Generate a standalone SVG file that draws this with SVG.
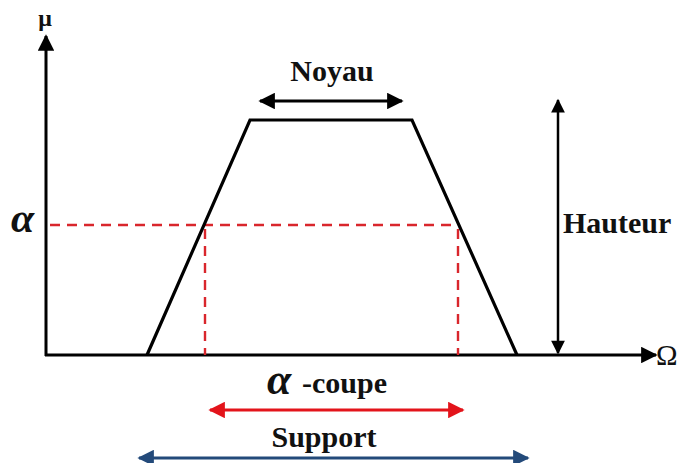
<svg xmlns="http://www.w3.org/2000/svg" width="682" height="463" viewBox="0 0 682 463">
  <style>
    .lbl { font-family: "Liberation Serif", "Times New Roman", serif; font-weight: bold; fill: #111; }
    .greek { font-family: "Liberation Serif", "Times New Roman", serif; font-style: italic; font-weight: bold; fill: #111; }
    .axis { stroke: #000; stroke-width: 3; fill: none; }
    .curve { stroke: #000; stroke-width: 3.2; fill: none; stroke-linejoin: miter; }
    .dash { stroke: #d9262c; stroke-width: 2.4; stroke-dasharray: 10 7; fill: none; }
  </style>
  <defs>
    <marker id="ah" viewBox="0 0 10 10" refX="9" refY="5" markerWidth="6" markerHeight="5.5" orient="auto-start-reverse" markerUnits="strokeWidth">
      <path d="M0,0 L10,5 L0,10 Z" fill="#000"/>
    </marker>
    <marker id="ahRed" viewBox="0 0 10 10" refX="9" refY="5" markerWidth="6" markerHeight="5.5" orient="auto-start-reverse" markerUnits="strokeWidth">
      <path d="M0,0 L10,5 L0,10 Z" fill="#e3141b"/>
    </marker>
    <marker id="ahBlue" viewBox="0 0 10 10" refX="9" refY="5" markerWidth="6" markerHeight="5.5" orient="auto-start-reverse" markerUnits="strokeWidth">
      <path d="M0,0 L10,5 L0,10 Z" fill="#234a7a"/>
    </marker>
  </defs>

  <rect width="682" height="463" fill="#fff"/>

  <!-- axes -->
  <g id="axes">
    <line class="axis" x1="46" y1="356" x2="46" y2="36" marker-end="url(#ah)"/>
    <line class="axis" x1="45" y1="355" x2="656" y2="355" marker-end="url(#ah)"/>
    <text class="lbl" x="45" y="26" font-size="24" text-anchor="middle">μ</text>
    <text x="656" y="365" font-size="29" font-family="Liberation Serif, serif" fill="#111">Ω</text>
  </g>

  <!-- alpha-cut guides -->
  <g id="alpha-cut">
    <line class="dash" x1="50" y1="225" x2="458" y2="225"/>
    <line class="dash" x1="205" y1="229" x2="205" y2="355"/>
    <line class="dash" x1="458" y1="229" x2="458" y2="355"/>
    <text class="greek" x="11" y="232" font-size="42">α</text>
  </g>

  <!-- trapezoidal membership function -->
  <g id="trapeze">
    <polyline class="curve" points="147,355 250,120 412,120 517,355"/>
  </g>

  <g id="connectors">
    <line x1="260" y1="101" x2="402" y2="101" stroke="#000" stroke-width="3" marker-start="url(#ah)" marker-end="url(#ah)"/>
    <line x1="558" y1="100" x2="558" y2="353" stroke="#000" stroke-width="2.5" marker-start="url(#ah)" marker-end="url(#ah)"/>
    <line x1="210" y1="410" x2="463" y2="410" stroke="#e3141b" stroke-width="3" marker-start="url(#ahRed)" marker-end="url(#ahRed)"/>
    <line x1="139" y1="458" x2="528" y2="458" stroke="#234a7a" stroke-width="3" marker-start="url(#ahBlue)" marker-end="url(#ahBlue)"/>
  </g>

  <g id="noyau">
    <text class="lbl" x="332" y="81" font-size="30" text-anchor="middle">Noyau</text>
  </g>
  <g id="hauteur">
    <text class="lbl" x="563" y="233" font-size="30">Hauteur</text>
  </g>
  <g id="coupe">
    <text class="greek" x="267" y="394" font-size="44">α</text>
    <text class="lbl" x="302" y="393" font-size="30">-coupe</text>
  </g>
  <g id="support">
    <text class="lbl" x="324" y="447" font-size="30" text-anchor="middle">Support</text>
  </g>
</svg>
